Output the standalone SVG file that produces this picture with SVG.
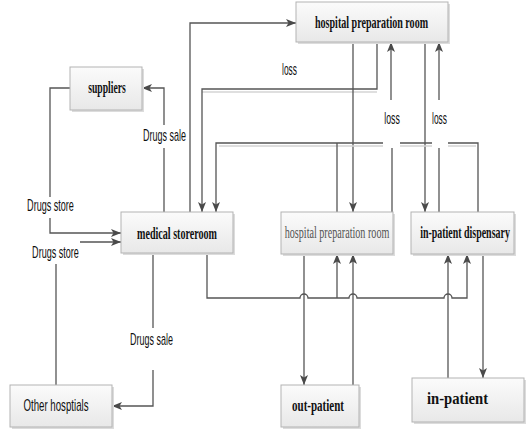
<svg xmlns="http://www.w3.org/2000/svg" width="526" height="431" viewBox="0 0 526 431">
<defs>
<linearGradient id="g" x1="0" y1="0" x2="0" y2="1">
<stop offset="0" stop-color="#fbfbfb"/>
<stop offset="1" stop-color="#e8e8e8"/>
</linearGradient>
<marker id="a" markerUnits="userSpaceOnUse" markerWidth="10" markerHeight="8" refX="10" refY="4" orient="auto">
<path d="M0,0 L10,4 L0,8 L2.5,4 z" fill="#4a4a4a"/>
</marker>
</defs>
<style>
.box{fill:url(#g);stroke:#b3b3b3;stroke-width:1}
.sh{fill:#dcdcdc}
.c{fill:none;stroke:#555;stroke-width:1.3}
.ca{fill:none;stroke:#555;stroke-width:1.3;marker-end:url(#a)}
.lt{fill:none;stroke:#d4d4d4;stroke-width:1.3}
.nt{font-family:"Liberation Serif",serif;font-weight:bold;font-size:17px;fill:#111;text-anchor:middle}
.nl{font-family:"Liberation Serif",serif;font-size:17px;fill:#555;text-anchor:middle}
.lb{font-family:"Liberation Sans",sans-serif;font-size:16px;fill:#111;text-anchor:middle}
</style>
<rect width="526" height="431" fill="#fff"/>

<g id="connectors">
<path class="ca" d="M190,212 V23 H296"/>
<path class="lt" d="M202,92 H377"/>
<path class="ca" d="M377,42 V89 H202 V212"/>
<path class="ca" d="M353,42 V212"/>
<path class="ca" d="M425,42 V212"/>
<path class="ca" d="M391,100 V42"/>
<path class="ca" d="M439,100 V42"/>
<path class="c" d="M392,212 V148"/>
<path class="c" d="M439,212 V148"/>
<path class="lt" d="M219,146 H383 M400,146 H432 M448,146 H476"/>
<path class="c" d="M478,212 V143 H448 M432,143 H400"/>
<path class="ca" d="M383,143 H216 V212"/>
<path class="c" d="M337,212 V143"/>
<path class="ca" d="M207,253 V298 H300 a4,4 0 0 1 8,0 H349 a4,4 0 0 1 8,0 H444 a4,4 0 0 1 8,0 H467 V254"/>
<path class="ca" d="M337,298 V254"/>
<path class="ca" d="M304,254 V385"/>
<path class="ca" d="M353,385 V254"/>
<path class="ca" d="M448,378 V254"/>
<path class="ca" d="M483,254 V378"/>
<path class="c" d="M70,88 H50 V197"/>
<path class="ca" d="M50,218 V233 H121"/>
<path class="ca" d="M80,242 H121"/>
<path class="c" d="M56,385 V264"/>
<path class="ca" d="M164,125 V88 H142"/>
<path class="c" d="M164,212 V148"/>
<path class="c" d="M153,253 V328"/>
<path class="ca" d="M153,370 V406 H112"/>
<text class="lb" transform="translate(289.5,75) scale(0.65,1)" textLength="23" lengthAdjust="spacingAndGlyphs">loss</text>
<text class="lb" transform="translate(392,124) scale(0.65,1)" textLength="24" lengthAdjust="spacingAndGlyphs">loss</text>
<text class="lb" transform="translate(439.5,124) scale(0.65,1)" textLength="23" lengthAdjust="spacingAndGlyphs">loss</text>
<text class="lb" transform="translate(50.5,211) scale(0.65,1)" textLength="72" lengthAdjust="spacingAndGlyphs">Drugs store</text>
<text class="lb" transform="translate(55.5,258) scale(0.65,1)" textLength="72" lengthAdjust="spacingAndGlyphs">Drugs store</text>
<text class="lb" transform="translate(164.5,141) scale(0.65,1)" textLength="66" lengthAdjust="spacingAndGlyphs">Drugs sale</text>
<text class="lb" transform="translate(151.5,345) scale(0.65,1)" textLength="66" lengthAdjust="spacingAndGlyphs">Drugs sale</text>
</g>

<g id="hpr-top">
<rect class="sh" x="298" y="4" width="152" height="40"/>
<rect class="box" x="296" y="2" width="152" height="40"/>
<text class="nt" transform="translate(371.5,28) scale(0.65,1)" textLength="174" lengthAdjust="spacingAndGlyphs">hospital preparation room</text>
</g>
<g id="suppliers">
<rect class="sh" x="72" y="69" width="72" height="43"/>
<rect class="box" x="70" y="67" width="72" height="43"/>
<text class="nt" transform="translate(107,93) scale(0.65,1)" textLength="58" lengthAdjust="spacingAndGlyphs">suppliers</text>
</g>
<g id="medical-storeroom">
<rect class="sh" x="123" y="214" width="112" height="41"/>
<rect class="box" x="121" y="212" width="112" height="41"/>
<text class="nt" transform="translate(177,239) scale(0.65,1)" textLength="123" lengthAdjust="spacingAndGlyphs">medical storeroom</text>
</g>
<g id="hpr-mid">
<rect class="sh" x="283" y="214" width="112" height="42"/>
<rect class="box" x="281" y="212" width="112" height="42"/>
<text class="nl" transform="translate(337,238) scale(0.65,1)" textLength="161" lengthAdjust="spacingAndGlyphs">hospital preparation room</text>
</g>
<g id="in-patient-dispensary">
<rect class="sh" x="413" y="214" width="103" height="42"/>
<rect class="box" x="411" y="212" width="103" height="42"/>
<text class="nt" transform="translate(465,238) scale(0.65,1)" textLength="138" lengthAdjust="spacingAndGlyphs">in-patient dispensary</text>
</g>
<g id="out-patient">
<rect class="sh" x="283" y="387" width="78" height="42"/>
<rect class="box" x="281" y="385" width="78" height="42"/>
<text class="nt" transform="translate(318,411) scale(0.65,1)" textLength="80" lengthAdjust="spacingAndGlyphs">out-patient</text>
</g>
<g id="in-patient">
<rect class="sh" x="414" y="380" width="112" height="44"/>
<rect class="box" x="412" y="378" width="112" height="44"/>
<text class="nt" transform="translate(457.5,404) scale(0.65,1)" textLength="94" lengthAdjust="spacingAndGlyphs">in-patient</text>
</g>
<g id="other-hospitals">
<rect class="sh" x="12" y="387" width="102" height="42"/>
<rect class="box" x="10" y="385" width="102" height="42"/>
<text class="lb" transform="translate(56,411) scale(0.65,1)" textLength="100" lengthAdjust="spacingAndGlyphs">Other hosptials</text>
</g>
</svg>
